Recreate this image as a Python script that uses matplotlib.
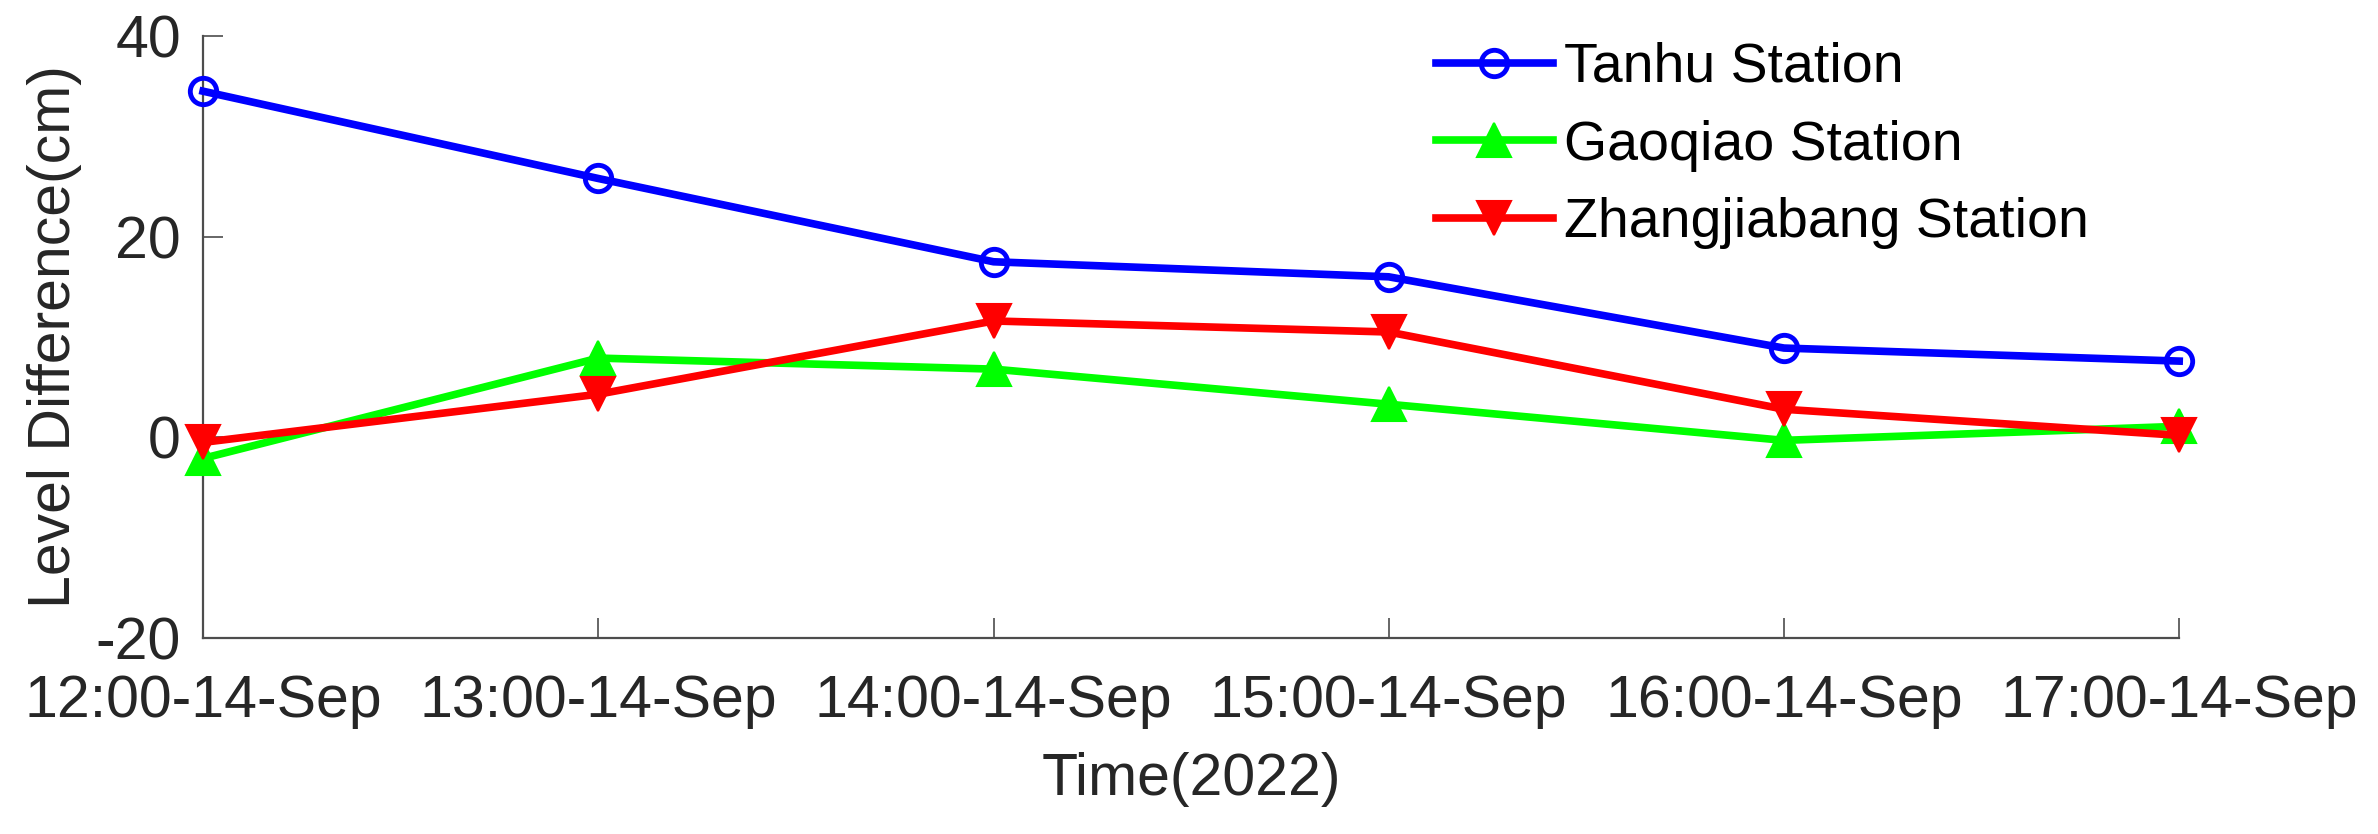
import matplotlib
matplotlib.use('Agg')
import matplotlib.pyplot as plt

plt.rcParams['font.family'] = ['Liberation Sans', 'DejaVu Sans']
plt.rcParams['axes.unicode_minus'] = False

# data
times = ['12:00-14-Sep', '13:00-14-Sep', '14:00-14-Sep',
         '15:00-14-Sep', '16:00-14-Sep', '17:00-14-Sep']
tanhu = [34.5, 25.8, 17.5, 16.0, 8.9, 7.6]
gaoqiao = [-2.1, 7.9, 6.8, 3.3, -0.3, 1.1]
zhang = [-0.5, 4.3, 11.6, 10.5, 2.8, 0.2]

x = list(range(len(times)))
fs = 42.5
txtcol = '#262626'

fig = plt.figure(figsize=(23.78, 8.34), dpi=100)
ax = fig.add_axes([0.0854, 0.235, 0.8310, 0.7218])

ax.plot(x, tanhu, color=(0, 0, 1), lw=5.5, marker='o', ms=19, mew=3.5,
        mfc='none', label='Tanhu Station', clip_on=False, zorder=3)
ax.plot(x, gaoqiao, color=(0, 1, 0), lw=5.5, marker='^', ms=25, mew=1.5,
        label='Gaoqiao Station', clip_on=False, zorder=4)
ax.plot(x, zhang, color=(1, 0, 0), lw=5.5, marker='v', ms=25, mew=1.5,
        label='Zhangjiabang Station', clip_on=False, zorder=5)

ax.set_xlim(0, 5)
ax.set_ylim(-20, 40)
ax.set_xticks(x)
ax.set_xticklabels(times)
ax.set_yticks([-20, 0, 20, 40])

for s in ['top', 'right']:
    ax.spines[s].set_visible(False)
for s in ['left', 'bottom']:
    ax.spines[s].set_color('#4d4d4d')
    ax.spines[s].set_linewidth(1.6)

ax.tick_params(axis='both', direction='in', length=14.5, width=1.2,
               color='#4d4d4d', labelsize=fs, labelcolor=txtcol)
ax.tick_params(axis='x', pad=26)
ax.tick_params(axis='y', pad=16)

ax.set_xlabel('Time(2022)', fontsize=fs, color=txtcol)
ax.set_ylabel('Level Difference(cm)', fontsize=fs, color=txtcol)
ax.xaxis.set_label_coords(0.5, -0.19)
ax.yaxis.set_label_coords(-0.0612, 0.5)

leg = ax.legend(loc='upper left', bbox_to_anchor=(1436 / 2378, 1 - 42 / 834),
                bbox_transform=fig.transFigure, frameon=False, fontsize=40,
                handlelength=2.1, handletextpad=0.2, labelspacing=0.46,
                borderpad=0, borderaxespad=0, numpoints=1)
for t in leg.get_texts():
    t.set_color('black')

fig.savefig('out.png', dpi=100)
